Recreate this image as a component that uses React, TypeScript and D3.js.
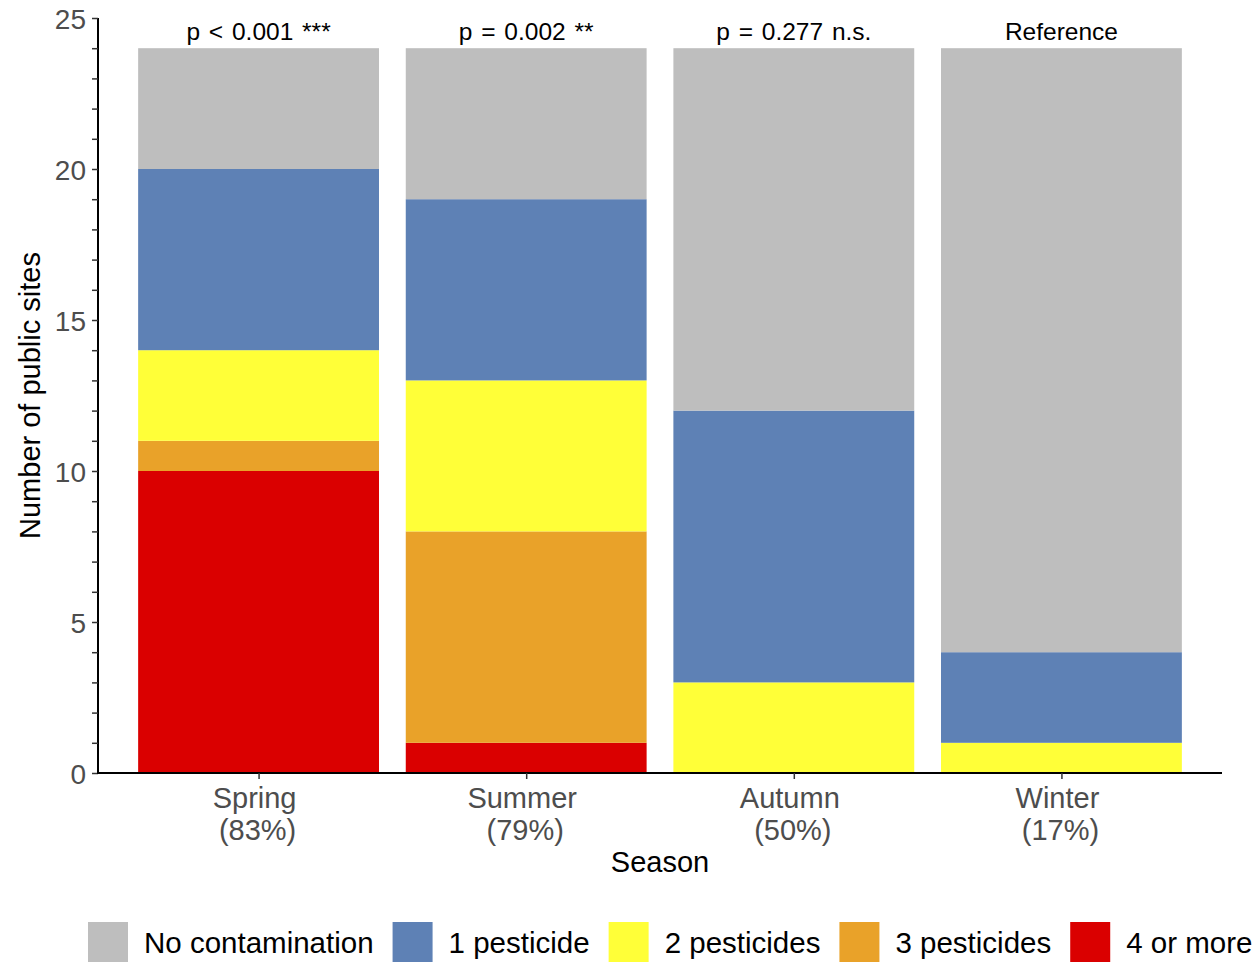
import { useEffect, useRef } from 'react';
import * as d3 from 'd3';

const seasons = ['Spring', 'Summer', 'Autumn', 'Winter'];
const seasonPct = ['(83%)', '(79%)', '(50%)', '(17%)'];
const pLabels = ['p < 0.001 ***', 'p = 0.002 **', 'p = 0.277 n.s.', 'Reference'];

const categories = ['4 or more', '3 pesticides', '2 pesticides', '1 pesticide', 'No contamination'];
const fourOrMore = [10, 1, 0, 0];
const threePest = [1, 7, 0, 0];
const twoPest = [3, 5, 3, 1];
const onePest = [6, 6, 9, 3];
const noContam = [4, 5, 12, 20];

const colors: Record<string, string> = {
  'No contamination': '#BEBEBE',
  '1 pesticide': '#5E81B5',
  '2 pesticides': '#FFFF38',
  '3 pesticides': '#E9A229',
  '4 or more': '#DA0000',
};
const legendOrder = ['No contamination', '1 pesticide', '2 pesticides', '3 pesticides', '4 or more'];

const W = 1256;
const H = 966;
const FONT = '"Liberation Sans", Arial, Helvetica, sans-serif';

export default function App() {
  const ref = useRef<SVGSVGElement | null>(null);

  useEffect(() => {
    document.body.style.margin = '0';
    const svg = d3.select(ref.current);
    svg.selectAll('*').remove();

    const left = 98;
    const right = 1222;
    const bottom = 773;
    const top = 18;

    const rows = seasons.map((s, i) => ({
      season: s,
      '4 or more': fourOrMore[i],
      '3 pesticides': threePest[i],
      '2 pesticides': twoPest[i],
      '1 pesticide': onePest[i],
      'No contamination': noContam[i],
    }));
    const stacked = d3.stack<any>().keys(categories)(rows);

    const x = d3.scalePoint<string>().domain(seasons).range([left, right]).padding(0.6);
    const barW = x.step() * 0.9;
    const y = d3.scaleLinear().domain([0, 25]).range([bottom, top]);

    // bars
    svg
      .append('g')
      .selectAll('g')
      .data(stacked)
      .join('g')
      .attr('fill', d => colors[d.key])
      .selectAll('rect')
      .data(d => d)
      .join('rect')
      .attr('x', d => (x(d.data.season) as number) - barW / 2)
      .attr('y', d => y(d[1]))
      .attr('width', barW)
      .attr('height', d => y(d[0]) - y(d[1]));

    // p-value annotations
    svg
      .append('g')
      .selectAll('text')
      .data(pLabels)
      .join('text')
      .attr('x', (_, i) => x(seasons[i]) as number)
      .attr('y', y(24) - 8)
      .attr('text-anchor', 'middle')
      .attr('font-family', FONT)
      .attr('font-size', 24.5)
      .attr('word-spacing', 2)
      .attr('fill', '#000')
      .text(d => d);

    // y axis
    const yAxis = d3
      .axisLeft(y)
      .tickValues(d3.range(0, 26))
      .tickSize(6)
      .tickFormat(d => ((d as number) % 5 === 0 ? String(d) : ''));
    svg
      .append('g')
      .attr('transform', `translate(${left},0)`)
      .call(yAxis)
      .call(g => g.select('.domain').attr('stroke', '#000').attr('stroke-width', 2).attr('d', `M0,${top}V${bottom}`))
      .call(g => g.selectAll('.tick line').attr('stroke', '#333').attr('stroke-width', 1.5))
      .call(g =>
        g
          .selectAll('.tick text')
          .attr('font-family', FONT)
          .attr('font-size', 28)
          .attr('fill', '#4D4D4D')
          .attr('x', -12)
          .attr('dy', '0.36em'),
      );

    // x axis
    const xAxis = d3.axisBottom(x).tickSize(6).tickFormat(() => '');
    svg
      .append('g')
      .attr('transform', `translate(0,${bottom})`)
      .call(xAxis)
      .call(g => g.select('.domain').attr('stroke', '#000').attr('stroke-width', 2).attr('d', `M${left - 1},0H${right}`))
      .call(g => g.selectAll('.tick line').attr('stroke', '#333').attr('stroke-width', 1.5));

    const xl = svg
      .append('g')
      .selectAll('text')
      .data(seasons)
      .join('text')
      .attr('text-anchor', 'middle')
      .attr('font-family', FONT)
      .attr('font-size', 29)
      .attr('fill', '#4D4D4D');
    xl.append('tspan')
      .attr('x', d => (x(d) as number) - 4)
      .attr('y', 808)
      .text(d => d);
    xl.append('tspan')
      .attr('x', d => (x(d) as number) - 1)
      .attr('y', 840)
      .text((_, i) => seasonPct[i]);

    // axis titles
    svg
      .append('text')
      .attr('x', (left + right) / 2)
      .attr('y', 872)
      .attr('text-anchor', 'middle')
      .attr('font-family', FONT)
      .attr('font-size', 29)
      .attr('fill', '#000')
      .text('Season');

    svg
      .append('text')
      .attr('transform', `translate(40,${(top + bottom) / 2}) rotate(-90)`)
      .attr('text-anchor', 'middle')
      .attr('font-family', FONT)
      .attr('font-size', 29)
      .attr('fill', '#000')
      .text('Number of public sites');

    // legend
    const legend = svg.append('g');
    let cx = 88;
    const keySize = 40;
    const keyY = 922;
    legendOrder.forEach(k => {
      legend.append('rect').attr('x', cx).attr('y', keyY).attr('width', keySize).attr('height', keySize).attr('fill', colors[k]);
      const t = legend
        .append('text')
        .attr('x', cx + keySize + 16)
        .attr('y', keyY + keySize / 2)
        .attr('dy', '0.36em')
        .attr('font-family', FONT)
        .attr('font-size', 29.5)
        .attr('fill', '#000')
        .text(k);
      const tw = (t.node() as SVGTextElement).getComputedTextLength();
      cx = cx + keySize + 16 + tw + 19;
    });
  }, []);

  return <svg ref={ref} width={W} height={H} style={{ display: 'block' }} />;
}
